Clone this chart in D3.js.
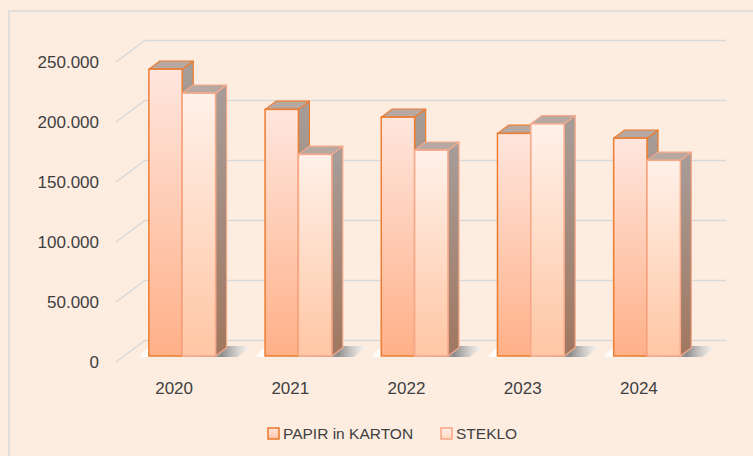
<!DOCTYPE html>
<html>
<head>
<meta charset="utf-8">
<script src="https://cdn.jsdelivr.net/npm/d3@7"></script>
<style>
  body { margin: 0; background: #fdede0; }
  text { font-family: "Liberation Sans", Arial, sans-serif; fill: #404040; }
</style>
</head>
<body>
<div id="chart"></div>
<script>
var years = ["2020", "2021", "2022", "2023", "2024"];
var seriesNames = ["PAPIR in KARTON", "STEKLO"];
var papir = [239000, 205500, 199000, 185500, 181500];
var steklo = [219000, 168000, 171500, 193500, 163000];
var yTicks = [0, 50000, 100000, 150000, 200000, 250000];

var width = 753, height = 456;
var DX = 29, DY = 21.5;     // full floor depth
var d0 = 0.28, d1 = 0.66;   // bar front / back depth

var svg = d3.select("#chart").append("svg")
  .attr("width", width)
  .attr("height", height);

var fmt = d3.formatLocale({decimal: ",", thousands: ".", grouping: [3], currency: ["", ""]}).format(",");

var x = d3.scaleBand().domain(years).range([116, 697]);
var groupW = x.bandwidth() * 0.574;
var x1 = d3.scaleBand().domain([0, 1]).range([0, groupW]);
var y = d3.scaleLinear().domain([0, 250000]).range([362, 62]);

var defs = svg.append("defs");
function vgrad(id, top, bottom) {
  var g = defs.append("linearGradient").attr("id", id)
    .attr("x1", 0).attr("y1", 0).attr("x2", 0).attr("y2", 1);
  g.append("stop").attr("offset", "0%").attr("stop-color", top);
  g.append("stop").attr("offset", "100%").attr("stop-color", bottom);
}
vgrad("front0", "#ffe6de", "#ffb088");
vgrad("front1", "#fff1e9", "#ffc6a4");
vgrad("side", "#a79d99", "#a1775f");
vgrad("legend0", "#ffe6de", "#ffc2a6");
vgrad("legend1", "#fff1e9", "#ffd6c0");

var sh = defs.append("linearGradient").attr("id", "shadow")
  .attr("x1", 0).attr("y1", 0).attr("x2", 1).attr("y2", 0);
sh.append("stop").attr("offset", "0%").attr("stop-color", "#ffffff").attr("stop-opacity", 0.2);
sh.append("stop").attr("offset", "8%").attr("stop-color", "#ffffff").attr("stop-opacity", 1);
sh.append("stop").attr("offset", "66%").attr("stop-color", "#a6a6a6").attr("stop-opacity", 1);
sh.append("stop").attr("offset", "74%").attr("stop-color", "#8c8c8c").attr("stop-opacity", 1);
sh.append("stop").attr("offset", "100%").attr("stop-color", "#ffffff").attr("stop-opacity", 0.6);

// chart border
svg.append("rect")
  .attr("x", 9).attr("y", 11)
  .attr("width", 800).attr("height", 500)
  .attr("fill", "none")
  .attr("stroke", "#d9d9d9")
  .attr("stroke-width", 1.5);

// gridlines on side and back wall
var x0 = x.range()[0], xEnd = x.range()[1];
svg.append("g").selectAll("path")
  .data(yTicks)
  .join("path")
  .attr("d", function(t) {
    return ["M", x0, y(t), "L", x0 + DX, y(t) - DY, "L", xEnd + DX, y(t) - DY].join(" ");
  })
  .attr("fill", "none")
  .attr("stroke", "#d9d9d9")
  .attr("stroke-width", 1.5);

// y labels
svg.append("g").selectAll("text")
  .data(yTicks)
  .join("text")
  .attr("x", 99)
  .attr("y", function(t) { return y(t); })
  .attr("dy", "0.35em")
  .attr("text-anchor", "end")
  .attr("font-size", 17)
  .text(function(t) { return fmt(t); });

// x labels
svg.append("g").selectAll("text")
  .data(years)
  .join("text")
  .attr("x", function(d) { return x(d) + x.bandwidth() / 2; })
  .attr("y", 394)
  .attr("text-anchor", "middle")
  .attr("font-size", 17)
  .text(function(d) { return d; });

var yb = y(0) - d0 * DY;
var ddx = (d1 - d0) * DX, ddy = (d1 - d0) * DY;

// floor shadows
svg.append("g").selectAll("path")
  .data(years)
  .join("path")
  .attr("d", function(d) {
    var gx0 = x(d) + (x.bandwidth() - groupW) / 2 + d0 * DX;
    var gx1 = gx0 + groupW;
    return ["M", gx0 - 12, yb + 1, "L", gx1 + 22, yb + 1, "L", gx1 + 36, yb - 10, "L", gx0 + 2, yb - 10, "Z"].join(" ");
  })
  .attr("fill", "url(#shadow)");

var strokes = ["#ed7d31", "#f7a98a"];
var series = [papir, steklo];

function drawBar(g, px, v, s) {
  var bx0 = px, bx1 = px + x1.bandwidth();
  var yt = y(v) - d0 * DY;
  var stroke = strokes[s];
  // side face
  g.append("path")
    .attr("d", ["M", bx1, yt, "L", bx1 + ddx, yt - ddy, "L", bx1 + ddx, yb - ddy, "L", bx1, yb, "Z"].join(" "))
    .attr("fill", "url(#side)")
    .attr("stroke", stroke)
    .attr("stroke-width", 1.2)
    .attr("stroke-linejoin", "round");
  // top face
  g.append("path")
    .attr("d", ["M", bx0, yt, "L", bx1, yt, "L", bx1 + ddx, yt - ddy, "L", bx0 + ddx, yt - ddy, "Z"].join(" "))
    .attr("fill", "#b7a8a1")
    .attr("stroke", stroke)
    .attr("stroke-width", 1.2)
    .attr("stroke-linejoin", "round");
  // front face
  g.append("rect")
    .attr("x", bx0)
    .attr("y", yt)
    .attr("width", bx1 - bx0)
    .attr("height", yb - yt)
    .attr("fill", "url(#front" + s + ")")
    .attr("stroke", stroke)
    .attr("stroke-width", 1.5);
}

var bars = svg.append("g");
years.forEach(function(yr, i) {
  var gx = x(yr) + (x.bandwidth() - groupW) / 2 + d0 * DX;
  for (var s = 0; s < 2; s++) {
    drawBar(bars, gx + x1(s), series[s][i], s);
  }
});

// legend
var legendPos = [267, 440];
var legend = svg.append("g");
seriesNames.forEach(function(name, s) {
  legend.append("rect")
    .attr("x", legendPos[s] + 1)
    .attr("y", 428)
    .attr("width", 11)
    .attr("height", 11)
    .attr("fill", "url(#legend" + s + ")")
    .attr("stroke", strokes[s])
    .attr("stroke-width", 1.6);
  legend.append("text")
    .attr("x", legendPos[s] + 16)
    .attr("y", 433.5)
    .attr("dy", "0.35em")
    .attr("font-size", 15.5)
    .text(name);
});
</script>
</body>
</html>
